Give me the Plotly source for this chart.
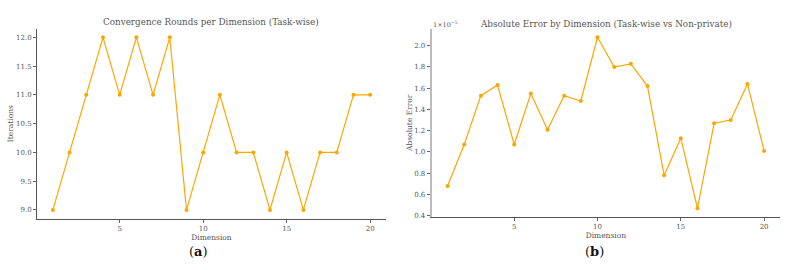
import plotly.graph_objects as go

dims = list(range(1, 21))
rounds = [9, 10, 11, 12, 11, 12, 11, 12, 9, 10, 11, 10, 10, 9, 10, 9, 10, 10, 11, 11]
abs_err = [0.68, 1.07, 1.53, 1.63, 1.07, 1.55, 1.21, 1.53, 1.48, 2.08,
           1.80, 1.83, 1.62, 0.78, 1.13, 0.47, 1.27, 1.30, 1.64, 1.01]  # x 1e-5
x_ticks = [5, 10, 15, 20]
y1_ticks = [9.0, 9.5, 10.0, 10.5, 11.0, 11.5, 12.0]
y2_ticks = [0.4, 0.6, 0.8, 1.0, 1.2, 1.4, 1.6, 1.8, 2.0]

ORANGE = "#FFA500"
FONT = "DejaVu Serif"
TXT = "#555555"
W, H = 791, 270

fig = go.Figure()
fig.add_trace(go.Scatter(x=dims, y=rounds, mode="lines+markers",
                         line=dict(color=ORANGE, width=1.2),
                         marker=dict(color=ORANGE, size=4),
                         xaxis="x", yaxis="y", showlegend=False))
fig.add_trace(go.Scatter(x=dims, y=abs_err, mode="lines+markers",
                         line=dict(color=ORANGE, width=1.2),
                         marker=dict(color=ORANGE, size=4),
                         xaxis="x2", yaxis="y2", showlegend=False))

def pad(lo, hi):
    s = hi - lo
    return [lo - 0.05 * s, hi + 0.05 * s]

common = dict(showgrid=False, zeroline=False, showline=True, ticks="outside",
              ticklen=3, tickwidth=0.8, tickcolor="#666666",
              tickfont=dict(family=FONT, size=7, color=TXT))

def ann(text, px, py, size, color=TXT, xanchor="center"):
    return dict(text=text, x=px / W, y=1 - py / H, xref="paper", yref="paper",
                xanchor=xanchor, yanchor="middle", showarrow=False,
                font=dict(size=size, family=FONT, color=color))

fig.update_layout(
    width=W, height=H, margin=dict(l=0, r=0, t=0, b=0),
    plot_bgcolor="white", paper_bgcolor="white",
    font=dict(family=FONT, color=TXT),
    xaxis=dict(domain=[0.0468, 0.488], range=pad(min(dims), max(dims)),
               tickvals=x_ticks, linecolor="#555555", linewidth=1,
               title=dict(text="Dimension", font=dict(size=7.5, family=FONT, color=TXT), standoff=1),
               anchor="y", **common),
    yaxis=dict(domain=[0.1815, 0.8926], range=pad(min(rounds), max(rounds)),
               tickvals=y1_ticks, ticktext=[f"{v:.1f}" for v in y1_ticks],
               linecolor="#555555", linewidth=1,
               title=dict(text="Iterations", font=dict(size=7.5, family=FONT, color=TXT), standoff=1),
               anchor="x", **common),
    xaxis2=dict(domain=[0.5458, 0.986], range=pad(min(dims), max(dims)),
                tickvals=x_ticks, linecolor="#555555", linewidth=1,
                title=dict(text="Dimension", font=dict(size=7.5, family=FONT, color=TXT), standoff=1),
                anchor="y2", **common),
    yaxis2=dict(domain=[0.188, 0.8926], range=pad(min(abs_err), max(abs_err)),
                tickvals=y2_ticks, ticktext=[f"{v:.1f}" for v in y2_ticks],
                linecolor="#BBBBBB", linewidth=2,
                title=dict(text="Absolute Error", font=dict(size=7.5, family=FONT, color=TXT), standoff=1),
                anchor="x2", **common),
    annotations=[
        ann("Convergence Rounds per Dimension (Task-wise)", 211, 22.7, 8.8),
        ann("Absolute Error by Dimension (Task-wise vs Non-private)", 605.7, 24, 8.8),
        ann("1×10<sup>−5</sup>", 431, 25, 6.5, xanchor="left"),
        ann("(<b>a</b>)", 199, 254, 13, color="#111111"),
        ann("(<b>b</b>)", 594, 254, 13, color="#111111"),
    ],
)

fig.write_html("out.html")
